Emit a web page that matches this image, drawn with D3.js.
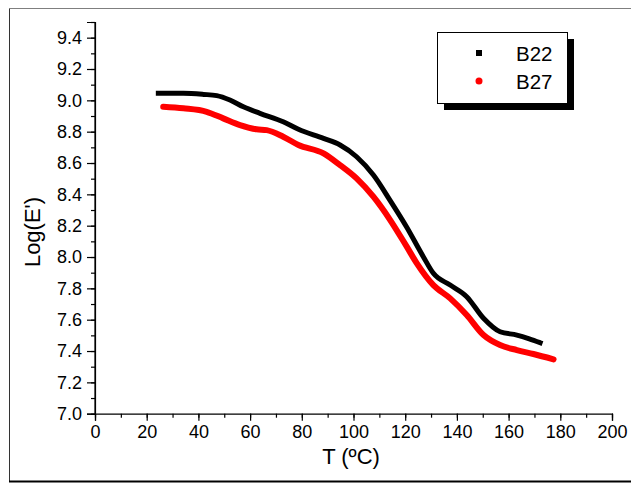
<!DOCTYPE html>
<html>
<head>
<meta charset="utf-8">
<script src="https://cdn.jsdelivr.net/npm/d3@7"></script>
<style>
  html, body { margin: 0; padding: 0; background: #fff; }
  svg { display: block; font-family: "Liberation Sans", Arial, sans-serif; }
</style>
</head>
<body>
<svg id="chart" width="631" height="483"></svg>
<script>
// Storage modulus (log scale) vs temperature for two samples
const seriesNames = ["B22", "B27"];
const seriesColors = ["#000000", "#ff0000"];

const tempB22 = [24.5, 34.2, 42.0, 47.1, 52.2, 57.4, 63.8, 72.8, 78.7, 88.4, 94.8, 101.2, 107.7, 114.2, 120.6, 127.0, 130.9, 137.4, 143.8, 150.3, 156.7, 163.2, 168.0, 172.2];
const logEB22 = [9.045, 9.045, 9.038, 9.030, 9.002, 8.959, 8.917, 8.863, 8.815, 8.757, 8.715, 8.640, 8.523, 8.360, 8.190, 8.002, 7.896, 7.821, 7.747, 7.609, 7.523, 7.502, 7.478, 7.453];

const tempB27 = [26.4, 34.2, 43.2, 49.6, 56.1, 62.5, 66.4, 72.8, 78.7, 88.4, 94.8, 101.2, 107.7, 114.2, 120.6, 124.5, 130.9, 137.4, 143.8, 150.3, 156.7, 163.2, 169.6, 177.4];
const logEB27 = [8.959, 8.949, 8.927, 8.885, 8.842, 8.815, 8.810, 8.768, 8.715, 8.662, 8.587, 8.502, 8.385, 8.236, 8.066, 7.960, 7.821, 7.736, 7.630, 7.502, 7.438, 7.406, 7.381, 7.347];

const xTicks = [0, 20, 40, 60, 80, 100, 120, 140, 160, 180, 200];
const yTicks = [7.0, 7.2, 7.4, 7.6, 7.8, 8.0, 8.2, 8.4, 8.6, 8.8, 9.0, 9.2, 9.4];

const svg = d3.select("#chart");

// outer frame
svg.append("line").attr("x1", 9.5).attr("x2", 631).attr("y1", 8.5).attr("y2", 8.5)
  .attr("stroke", "#7f7f7f").attr("stroke-width", 1);
svg.append("line").attr("x1", 9.5).attr("x2", 9.5).attr("y1", 8.5).attr("y2", 481)
  .attr("stroke", "#333").attr("stroke-width", 1);
svg.append("line").attr("x1", 9).attr("x2", 631).attr("y1", 481.5).attr("y2", 481.5)
  .attr("stroke", "#000").attr("stroke-width", 2);

const x = d3.scaleLinear().domain([0, 200]).range([95, 612]);
const y = d3.scaleLinear().domain([7.0, 9.5]).range([413.7, 22]);

const fs = 18;

// x axis
const xAxisG = svg.append("g").attr("transform", `translate(0,${y(7.0)})`);
xAxisG.call(d3.axisBottom(x).tickValues(d3.range(0, 201, 10)).tickSize(4).tickFormat(""))
  .call(g => g.select(".domain").remove());
xAxisG.append("g")
  .call(d3.axisBottom(x).tickValues(xTicks).tickSize(7).tickPadding(5).tickFormat(d3.format("d")))
  .call(g => g.selectAll("text").attr("font-size", fs).attr("fill", "#000").attr("font-family", null));
xAxisG.selectAll("line, path").attr("stroke", "#000").attr("stroke-width", 1.2);

// y axis
const yAxisG = svg.append("g").attr("transform", `translate(${x(0)},0)`);
yAxisG.call(d3.axisLeft(y).tickValues(d3.range(70, 96, 1).map(d => d / 10)).tickSize(4).tickFormat(""))
  .call(g => g.select(".domain").remove());
yAxisG.append("g")
  .call(d3.axisLeft(y).tickValues(yTicks).tickSize(8).tickPadding(5).tickFormat(d3.format(".1f")))
  .call(g => g.selectAll("text").attr("font-size", fs).attr("fill", "#000").attr("font-family", null));
yAxisG.append("line").attr("x1", 0).attr("x2", 0).attr("y1", y(9.5)).attr("y2", y(7.0));
yAxisG.selectAll("line, path").attr("stroke", "#000").attr("stroke-width", 1.2);

// axis titles
svg.append("text").attr("x", 351).attr("y", 464).attr("text-anchor", "middle")
  .attr("font-size", 22).text("T (ºC)");
svg.append("text").attr("transform", "translate(40,232) rotate(-90)")
  .attr("text-anchor", "middle").attr("font-size", 22).text("Log(E')");

// data curves
const line = d3.line().x(d => x(d[0])).y(d => y(d[1])).curve(d3.curveMonotoneX);
const dataB22 = tempB22.map((t, i) => [t, logEB22[i]]);
const dataB27 = tempB27.map((t, i) => [t, logEB27[i]]);

svg.append("path").datum(dataB27).attr("d", line)
  .attr("fill", "none").attr("stroke", seriesColors[1]).attr("stroke-width", 6)
  .attr("stroke-linecap", "round").attr("stroke-linejoin", "round");
svg.append("path").datum(dataB22).attr("d", line)
  .attr("fill", "none").attr("stroke", seriesColors[0]).attr("stroke-width", 5)
  .attr("stroke-linecap", "square").attr("stroke-linejoin", "round");

// legend with drop shadow
const lg = svg.append("g");
lg.append("rect").attr("x", 444).attr("y", 39).attr("width", 130).attr("height", 71).attr("fill", "#000");
lg.append("rect").attr("x", 437.5).attr("y", 32.5).attr("width", 130).attr("height", 71)
  .attr("fill", "#fff").attr("stroke", "#000").attr("stroke-width", 1);
lg.append("rect").attr("x", 476).attr("y", 50).attr("width", 6).attr("height", 6).attr("fill", seriesColors[0]);
lg.append("circle").attr("cx", 479).attr("cy", 81).attr("r", 3.5).attr("fill", seriesColors[1]);
lg.append("text").attr("x", 516).attr("y", 61).attr("font-size", 20.5).text(seriesNames[0]);
lg.append("text").attr("x", 516).attr("y", 88.5).attr("font-size", 20.5).text(seriesNames[1]);
</script>
</body>
</html>
